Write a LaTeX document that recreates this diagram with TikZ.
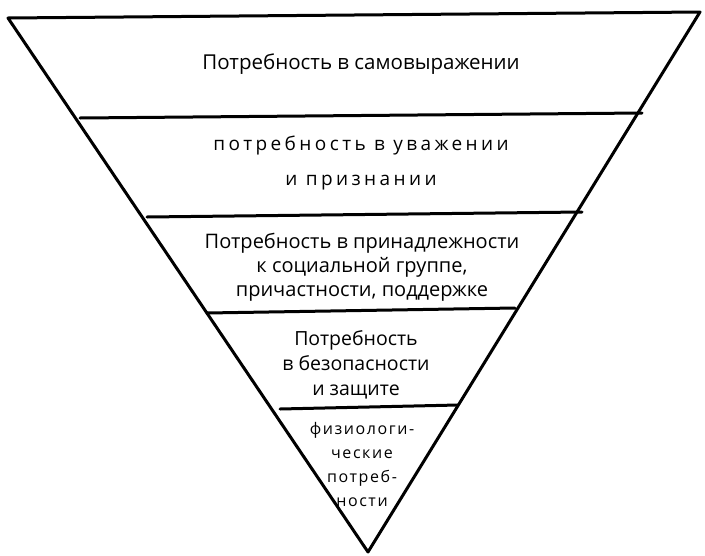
\documentclass[tikz,border=0pt]{standalone}
\usepackage{fontspec}
\setmainfont{Open Sans}
\newfontfamily\wide[LetterSpace=18]{Open Sans}
\newfontfamily\semiwide[LetterSpace=10]{Open Sans}
\begin{document}
\begin{tikzpicture}[x=1pt,y=-1pt,
  edge/.style={line width=3pt,line join=round,line cap=round},
  lbl/.style={align=center,inner sep=0pt}]
\useasboundingbox (0,0) rectangle (705,555);
\coordinate (tl) at (8,18);
\coordinate (tr) at (700,12);
\coordinate (ap) at (368,552);
\coordinate (a1) at (80,118); \coordinate (b1) at (642,113);
\coordinate (a2) at (147,217); \coordinate (b2) at (582,212);
\coordinate (a3) at (207,313); \coordinate (b3) at (515,308);
\coordinate (a4) at (280,409); \coordinate (b4) at (458,405);
\draw[edge] (tl) -- (tr) -- (ap) -- cycle;
\draw[edge] (a1) -- (b1);
\draw[edge] (a2) -- (b2);
\draw[edge] (a3) -- (b3);
\draw[edge] (a4) -- (b4);
\node[lbl,font=\fontsize{20.5}{24}\selectfont] (t1) at (361,64) {Потребность в самовыражении};
\node[lbl,font=\fontsize{19}{35}\selectfont\wide] (t2) at (361,163) {потребность в уважении\\и признании};
\node[lbl,font=\fontsize{20}{24}\selectfont] (t3) at (362,267) {Потребность в принадлежности\\к социальной группе,\\причастности, поддержке};
\node[lbl,font=\fontsize{19.5}{25}\selectfont] (t4) at (356,365) {Потребность\\в безопасности\\и защите};
\node[lbl,font=\fontsize{16}{24}\selectfont\semiwide] (t5) at (362,464) {физиологи-\\ческие\\потреб-\\ности};
\end{tikzpicture}
\end{document}
